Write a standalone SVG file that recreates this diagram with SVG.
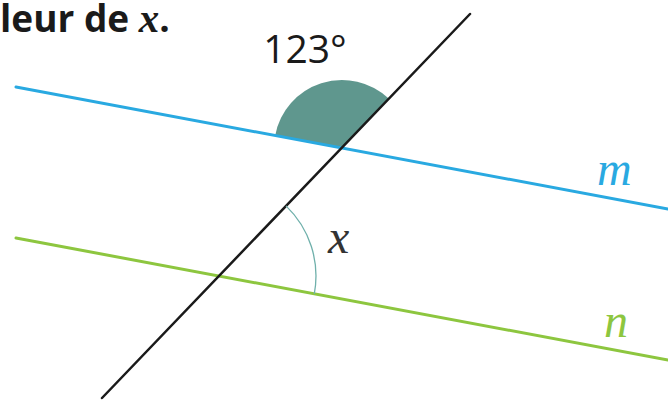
<svg xmlns="http://www.w3.org/2000/svg" width="668" height="400" viewBox="0 0 668 400">
<style>
.ln{fill:none;stroke-linecap:round}
.lbl{font-family:"Liberation Serif",serif;font-style:italic;font-size:48px}
</style>
<rect width="668" height="400" fill="#fff"/>
<text x="0" y="32" font-family="'Open Sans',sans-serif" font-weight="bold" font-size="37" fill="#1a1a1a">leur de <tspan font-family="'Liberation Serif',serif" font-style="italic" font-size="41">x</tspan>.</text>
<g id="angle123">
<path d="M342,148 L275.2,135.5 A68,68 0 0 1 389,98.8 Z" fill="#5f978e"/>
<text x="305" y="63" text-anchor="middle" font-family="'Open Sans',sans-serif" font-size="39" fill="#1a1a1a">123°</text>
</g>
<g id="lines">
<line id="m" class="ln" x1="16" y1="87" x2="668" y2="209" stroke="#29a9e1" stroke-width="3"/>
<line id="n" class="ln" x1="16" y1="238" x2="668" y2="360" stroke="#8dc63f" stroke-width="3"/>
<line id="t" class="ln" x1="470" y1="14" x2="102" y2="398" stroke="#1a1a1a" stroke-width="2.5"/>
</g>
<g id="angleX">
<path d="M286,205.9 A97,97 0 0 1 314.3,293.8" fill="none" stroke="#6fb0ab" stroke-width="1.3"/>
<text class="lbl" x="328" y="253" fill="#333">x</text>
</g>
<text class="lbl" x="597" y="185" fill="#29a9e1">m</text>
<text class="lbl" x="604" y="337" fill="#8dc63f">n</text>
</svg>
